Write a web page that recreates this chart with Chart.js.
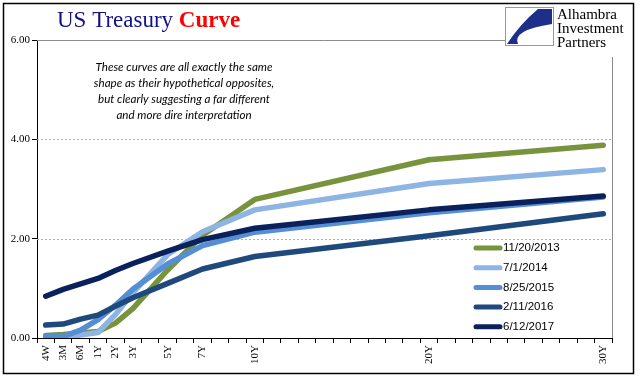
<!DOCTYPE html>
<html><head><meta charset="utf-8">
<script src="https://cdn.jsdelivr.net/npm/chart.js@4"></script>
<style>html,body{margin:0;padding:0;background:#fff}#wrap{width:641px;height:381px;position:relative}</style>
</head><body><div id="wrap"><canvas id="c" width="641" height="381"></canvas></div>
<script>
const tenors = ['4W','3M','6M','1Y','2Y','3Y','5Y','7Y','10Y','20Y','30Y'];
const tenorSlots = [0,1,2,3,4,5,7,9,12,22,32];
const slotCount = 33;
const seriesNames = ['11/20/2013','7/1/2014','8/25/2015','2/11/2016','6/12/2017'];
const y2013 = [0.05,0.07,0.10,0.13,0.30,0.59,1.37,2.07,2.79,3.59,3.88];
const y2014 = [0.02,0.02,0.06,0.11,0.47,0.91,1.68,2.14,2.58,3.11,3.39];
const y2015 = [0.03,0.03,0.16,0.37,0.66,0.98,1.49,1.86,2.13,2.52,2.84];
const y2016 = [0.26,0.28,0.38,0.46,0.64,0.81,1.10,1.39,1.64,2.06,2.50];
const y2017 = [0.84,0.98,1.09,1.20,1.36,1.50,1.75,1.98,2.21,2.58,2.86];
const yTicks = [0,2,4,6];
const colors = ['#77933C','#8DB4E2','#558ED5','#1F497D','#0B215C'];
const annotation = ['These curves are all exactly the same','shape as their hypothetical opposites,','but clearly suggesting a far different','and more dire interpretation'];

const labels = Array(slotCount).fill('');
tenorSlots.forEach((s,i)=>labels[s]=tenors[i]);
function spread(vals){const a=Array(slotCount).fill(null);tenorSlots.forEach((s,i)=>a[s]=vals[i]);return a;}
const allSeries=[y2013,y2014,y2015,y2016,y2017];
const datasets = allSeries.map((v,i)=>({
  label: seriesNames[i], data: spread(v), borderColor: colors[i], backgroundColor: colors[i],
  borderWidth: 5.5, borderCapStyle:'round', borderJoinStyle:'round', pointRadius:0, tension:0,
  spanGaps:true, fill:false, order: allSeries.length-1-i
}));

const deco = {
  id:'deco',
  beforeDatasetsDraw(chart){
    const ctx=chart.ctx, a=chart.chartArea, ys=chart.scales.y;
    ctx.save();
    ctx.lineWidth=1;
    yTicks.forEach(t=>{
      if(t===0) return;
      const py=Math.round(ys.getPixelForValue(t))+0.5;
      ctx.strokeStyle= t===6 ? '#8c8c8c' : '#b0b0b0';
      ctx.setLineDash(t===6?[]:[2,2]);
      ctx.beginPath();ctx.moveTo(a.left,py);ctx.lineTo(a.right,py);ctx.stroke();
    });
    ctx.setLineDash([]);
    ctx.strokeStyle='#8c8c8c';
    ctx.beginPath();ctx.moveTo(Math.round(a.right)+0.5,a.top);ctx.lineTo(Math.round(a.right)+0.5,a.bottom);ctx.stroke();
    ctx.restore();
  },
  afterDraw(chart){
    const ctx=chart.ctx;
    ctx.save();
    ctx.strokeStyle='#000';ctx.lineWidth=1.5;
    ctx.strokeRect(3.5,3.5,630,370);
    ctx.textBaseline='alphabetic';ctx.textAlign='left';
    ctx.font='23px "Liberation Serif"';ctx.fillStyle='#10108a';
    ctx.fillText('US Treasury ',57,27);
    const w=ctx.measureText('US Treasury ').width;
    ctx.font='bold 23px "Liberation Serif"';ctx.fillStyle='#ff0000';
    ctx.fillText('Curve',57+w,27);
    ctx.font='italic 11.6px Lato';ctx.fillStyle='#000';ctx.textAlign='center';
    annotation.forEach((l,i)=>ctx.fillText(l,184,71+i*16));
    ctx.fillStyle='#fff';ctx.fillRect(505,5,127,52);
    ctx.strokeStyle='#9a9a9a';ctx.lineWidth=1;ctx.strokeRect(505.5,7.5,48,38);
    ctx.fillStyle='#1d2f8a';
    ctx.beginPath();
    ctx.moveTo(552,9);ctx.lineTo(538,9);
    ctx.quadraticCurveTo(520,24,507,44);
    ctx.lineTo(518,44);
    ctx.quadraticCurveTo(512,30,552,24);
    ctx.closePath();ctx.fill();
    ctx.font='15px "Liberation Serif"';ctx.fillStyle='#000';ctx.textAlign='left';
    ctx.fillText('Alhambra',557,19);ctx.fillText('Investment',557,33);ctx.fillText('Partners',557,47);
    ctx.font='11.5px "Liberation Sans"';ctx.textBaseline='middle';
    chart.data.datasets.forEach((d,i)=>{
      const cy=248+i*19.7;
      ctx.strokeStyle=d.borderColor;ctx.lineWidth=5;ctx.lineCap='round';
      ctx.beginPath();ctx.moveTo(476,cy);ctx.lineTo(500,cy);ctx.stroke();
      ctx.fillStyle='#000';ctx.fillText(d.label,503,cy);
    });
    ctx.restore();
  }
};

new Chart(document.getElementById('c'),{
  type:'line',
  data:{labels, datasets},
  options:{
    responsive:false, animation:false,
    layout:{padding:{left:0,right:29,top:40,bottom:0}},
    plugins:{legend:{display:false},tooltip:{enabled:false},title:{display:false}},
    scales:{
      x:{type:'category', offset:true,
        grid:{offset:true, drawOnChartArea:false, color:'#000', tickLength:5},
        border:{color:'#000', width:1},
        ticks:{autoSkip:false, maxRotation:90, minRotation:90, padding:2, color:'#000', font:{family:'"Liberation Serif"', size:11}},
        afterFit(s){s.height=43;}
      },
      y:{min:0,max:6,
        afterBuildTicks(s){s.ticks=yTicks.map(v=>({value:v}));},
        grid:{drawOnChartArea:false, color:'#000', tickLength:5},
        border:{color:'#000', width:1},
        ticks:{padding:2,color:'#000',font:{family:'"Liberation Serif"', size:11},callback:v=>Number(v).toFixed(2)},
        afterFit(s){s.width=37;}
      }
    }
  },
  plugins:[deco]
});
</script></body></html>
